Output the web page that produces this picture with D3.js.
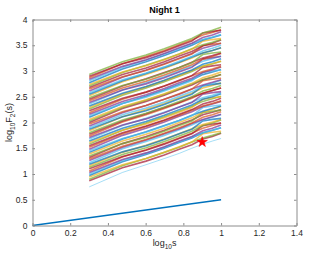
<!DOCTYPE html>
<meta charset="utf-8">
<style>
body { margin: 0; background: #fff; }
svg { font-family: "Liberation Sans", Arial, sans-serif; }
.tick text { font-size: 8.5px; fill: #262626; }
.axis path, .axis line { stroke: #8c8c8c; }
</style>
<svg width="329" height="253"></svg>
<script src="https://d3js.org/d3.v7.min.js"></script>
<script>

// log10 s for s = 2..10
var logS = [0.301, 0.477, 0.602, 0.699, 0.778, 0.845, 0.903, 0.954, 1];

// log10 F2(s), one row per segment
var fluct = [
  [0.75, 1.03, 1.18, 1.30, 1.40, 1.50, 1.58, 1.64, 1.69],
  [0.87, 1.12, 1.25, 1.37, 1.48, 1.57, 1.68, 1.73, 1.79],
  [0.90, 1.16, 1.30, 1.42, 1.52, 1.62, 1.70, 1.75, 1.80],
  [0.94, 1.18, 1.30, 1.42, 1.53, 1.62, 1.78, 1.81, 1.83],
  [0.97, 1.24, 1.38, 1.50, 1.61, 1.70, 1.80, 1.85, 1.90],
  [1.00, 1.26, 1.40, 1.52, 1.62, 1.72, 1.80, 1.85, 1.90],
  [1.03, 1.28, 1.41, 1.53, 1.64, 1.73, 1.84, 1.89, 1.95],
  [1.06, 1.33, 1.47, 1.59, 1.70, 1.79, 1.89, 1.94, 1.99],
  [1.10, 1.34, 1.46, 1.58, 1.69, 1.78, 1.94, 1.97, 1.99],
  [1.13, 1.38, 1.51, 1.63, 1.74, 1.83, 1.94, 1.99, 2.05],
  [1.16, 1.42, 1.56, 1.68, 1.78, 1.88, 1.96, 2.01, 2.06],
  [1.19, 1.43, 1.55, 1.67, 1.78, 1.87, 2.03, 2.06, 2.08],
  [1.22, 1.49, 1.63, 1.75, 1.86, 1.95, 2.05, 2.10, 2.15],
  [1.26, 1.52, 1.66, 1.78, 1.88, 1.98, 2.06, 2.11, 2.16],
  [1.29, 1.54, 1.67, 1.79, 1.90, 1.99, 2.10, 2.15, 2.21],
  [1.32, 1.59, 1.73, 1.85, 1.96, 2.05, 2.15, 2.20, 2.25],
  [1.35, 1.59, 1.71, 1.83, 1.94, 2.03, 2.19, 2.22, 2.24],
  [1.39, 1.64, 1.77, 1.89, 2.00, 2.09, 2.20, 2.25, 2.31],
  [1.42, 1.68, 1.82, 1.94, 2.04, 2.14, 2.22, 2.27, 2.32],
  [1.45, 1.69, 1.81, 1.93, 2.04, 2.13, 2.29, 2.32, 2.34],
  [1.48, 1.75, 1.89, 2.01, 2.12, 2.21, 2.31, 2.36, 2.41],
  [1.52, 1.78, 1.92, 2.04, 2.14, 2.24, 2.32, 2.37, 2.42],
  [1.55, 1.80, 1.93, 2.05, 2.16, 2.25, 2.36, 2.41, 2.47],
  [1.58, 1.85, 1.99, 2.11, 2.22, 2.31, 2.41, 2.46, 2.51],
  [1.61, 1.85, 1.97, 2.09, 2.20, 2.29, 2.45, 2.48, 2.50],
  [1.64, 1.89, 2.02, 2.14, 2.25, 2.34, 2.45, 2.50, 2.56],
  [1.68, 1.94, 2.08, 2.20, 2.30, 2.40, 2.48, 2.53, 2.58],
  [1.71, 1.95, 2.07, 2.19, 2.30, 2.39, 2.55, 2.58, 2.60],
  [1.74, 2.01, 2.15, 2.27, 2.38, 2.47, 2.57, 2.62, 2.67],
  [1.77, 2.03, 2.17, 2.29, 2.39, 2.49, 2.57, 2.62, 2.67],
  [1.80, 2.05, 2.18, 2.30, 2.41, 2.50, 2.61, 2.66, 2.72],
  [1.84, 2.11, 2.25, 2.37, 2.48, 2.57, 2.67, 2.72, 2.77],
  [1.87, 2.11, 2.23, 2.35, 2.46, 2.55, 2.71, 2.74, 2.76],
  [1.90, 2.15, 2.28, 2.40, 2.51, 2.60, 2.71, 2.76, 2.82],
  [1.93, 2.19, 2.33, 2.45, 2.55, 2.65, 2.73, 2.78, 2.83],
  [1.97, 2.21, 2.33, 2.45, 2.56, 2.65, 2.81, 2.84, 2.86],
  [2.00, 2.27, 2.41, 2.53, 2.64, 2.73, 2.83, 2.88, 2.93],
  [2.03, 2.29, 2.43, 2.55, 2.65, 2.75, 2.83, 2.88, 2.93],
  [2.06, 2.31, 2.44, 2.56, 2.67, 2.76, 2.87, 2.92, 2.98],
  [2.10, 2.37, 2.51, 2.63, 2.74, 2.83, 2.93, 2.98, 3.03],
  [2.13, 2.37, 2.49, 2.61, 2.72, 2.81, 2.97, 3.00, 3.02],
  [2.16, 2.41, 2.54, 2.66, 2.77, 2.86, 2.97, 3.02, 3.08],
  [2.19, 2.45, 2.59, 2.71, 2.81, 2.91, 2.99, 3.04, 3.09],
  [2.23, 2.47, 2.59, 2.71, 2.82, 2.91, 3.07, 3.10, 3.12],
  [2.26, 2.53, 2.67, 2.79, 2.90, 2.99, 3.09, 3.14, 3.19],
  [2.29, 2.55, 2.69, 2.81, 2.91, 3.01, 3.09, 3.14, 3.19],
  [2.32, 2.57, 2.70, 2.82, 2.93, 3.02, 3.13, 3.18, 3.24],
  [2.36, 2.63, 2.77, 2.89, 3.00, 3.09, 3.19, 3.24, 3.29],
  [2.39, 2.63, 2.75, 2.87, 2.98, 3.07, 3.23, 3.26, 3.28],
  [2.42, 2.67, 2.80, 2.92, 3.03, 3.12, 3.23, 3.28, 3.34],
  [2.45, 2.71, 2.85, 2.97, 3.07, 3.17, 3.25, 3.30, 3.35],
  [2.48, 2.72, 2.84, 2.96, 3.07, 3.16, 3.32, 3.35, 3.37],
  [2.52, 2.79, 2.93, 3.05, 3.16, 3.25, 3.35, 3.40, 3.45],
  [2.55, 2.81, 2.95, 3.07, 3.17, 3.27, 3.35, 3.40, 3.45],
  [2.58, 2.83, 2.96, 3.08, 3.19, 3.28, 3.39, 3.44, 3.50],
  [2.61, 2.88, 3.02, 3.14, 3.25, 3.34, 3.44, 3.49, 3.54],
  [2.65, 2.89, 3.01, 3.13, 3.24, 3.33, 3.49, 3.52, 3.54],
  [2.68, 2.93, 3.06, 3.18, 3.29, 3.38, 3.49, 3.54, 3.60],
  [2.71, 2.97, 3.11, 3.23, 3.33, 3.43, 3.51, 3.56, 3.61],
  [2.74, 2.98, 3.10, 3.22, 3.33, 3.42, 3.58, 3.61, 3.63],
  [2.77, 3.04, 3.18, 3.30, 3.41, 3.50, 3.60, 3.65, 3.70],
  [2.81, 3.07, 3.21, 3.33, 3.43, 3.53, 3.61, 3.66, 3.71],
  [2.84, 3.09, 3.22, 3.34, 3.45, 3.54, 3.65, 3.70, 3.76],
  [2.87, 3.14, 3.28, 3.40, 3.51, 3.60, 3.70, 3.75, 3.80],
  [2.90, 3.14, 3.26, 3.38, 3.49, 3.58, 3.74, 3.77, 3.79],
  [2.93, 3.18, 3.31, 3.43, 3.54, 3.63, 3.74, 3.79, 3.85]
];

// reference slope line
var refX = [0, 1];
var refY = [0, 0.5];

var star = {x: 0.9, y: 1.62};

var xTicks = [0, 0.2, 0.4, 0.6, 0.8, 1, 1.2, 1.4];
var yTicks = [0, 0.5, 1, 1.5, 2, 2.5, 3, 3.5, 4];

var colors = ["#0072BD", "#D95319", "#EDB120", "#7E2F8E", "#77AC30", "#4DBEEE", "#A2142F"];

var svg = d3.select("svg");
var mLeft = 32.5, mRight = 296.5, mTop = 19.5, mBottom = 225.5;

var x = d3.scaleLinear().domain([0, 1.4]).range([mLeft, mRight]);
var y = d3.scaleLinear().domain([0, 4]).range([mBottom, mTop]);

var line = d3.line()
    .x(function(d) { return x(d[0]); })
    .y(function(d) { return y(d[1]); });

// curves, drawn from the bottom up
svg.append("g")
  .selectAll("path")
  .data(fluct)
  .enter().append("path")
    .attr("d", function(row) { return line(row.map(function(v, i) { return [logS[i], v]; })); })
    .attr("fill", "none")
    .attr("stroke", function(d, i) { return i == 0 ? "#4DBEEE" : colors[(i * 5 + 1) % colors.length]; })
    .attr("stroke-opacity", function(d, i) { return i == 0 ? 0.5 : 0.7; })
    .attr("stroke-width", function(d, i) { return i == 0 ? 1 : 1.6; });

svg.append("path")
  .attr("d", line(refX.map(function(v, i) { return [v, refY[i]]; })))
  .attr("fill", "none")
  .attr("stroke", colors[0])
  .attr("stroke-width", 1.3);

svg.append("path")
  .attr("d", d3.symbol().type(d3.symbolStar).size(34)())
  .attr("transform", "translate(" + x(star.x) + "," + y(star.y) + ")")
  .attr("fill", "#ff0000")
  .attr("stroke", "#ff0000")
  .attr("stroke-width", 0.5);

// axes with inward ticks, box on
svg.append("g").attr("class", "axis")
  .attr("transform", "translate(0," + mBottom + ")")
  .call(d3.axisBottom(x).tickValues(xTicks).tickSizeInner(-2.5).tickSizeOuter(0).tickPadding(4).tickFormat(d3.format("~g")));
svg.append("g").attr("class", "axis")
  .attr("transform", "translate(0," + mTop + ")")
  .call(d3.axisTop(x).tickValues(xTicks).tickSizeInner(-2.5).tickSizeOuter(0).tickFormat(""));
svg.append("g").attr("class", "axis")
  .attr("transform", "translate(" + mLeft + ",0)")
  .call(d3.axisLeft(y).tickValues(yTicks).tickSizeInner(-2.5).tickSizeOuter(0).tickPadding(5).tickFormat(d3.format("~g")));
svg.append("g").attr("class", "axis")
  .attr("transform", "translate(" + mRight + ",0)")
  .call(d3.axisRight(y).tickValues(yTicks).tickSizeInner(-2.5).tickSizeOuter(0).tickFormat(""));

svg.append("text")
  .attr("x", (mLeft + mRight) / 2)
  .attr("y", 13)
  .attr("text-anchor", "middle")
  .attr("font-size", 9)
  .attr("font-weight", "bold")
  .attr("fill", "#000")
  .text("Night 1");

var xl = svg.append("text")
  .attr("x", (mLeft + mRight) / 2)
  .attr("y", 246)
  .attr("text-anchor", "middle")
  .attr("font-size", 9)
  .attr("fill", "#262626");
xl.append("tspan").text("log");
xl.append("tspan").attr("font-size", 6.5).attr("dy", 2.5).text("10");
xl.append("tspan").attr("dy", -2.5).text("s");

var yl = svg.append("text")
  .attr("transform", "translate(12," + (mTop + mBottom) / 2 + ") rotate(-90)")
  .attr("text-anchor", "middle")
  .attr("font-size", 9)
  .attr("fill", "#262626");
yl.append("tspan").text("log");
yl.append("tspan").attr("font-size", 6.5).attr("dy", 2.5).text("10");
yl.append("tspan").attr("dy", -2.5).text("F");
yl.append("tspan").attr("font-size", 6.5).attr("dy", 2.5).text("2");
yl.append("tspan").attr("dy", -2.5).text("(s)");

</script>
